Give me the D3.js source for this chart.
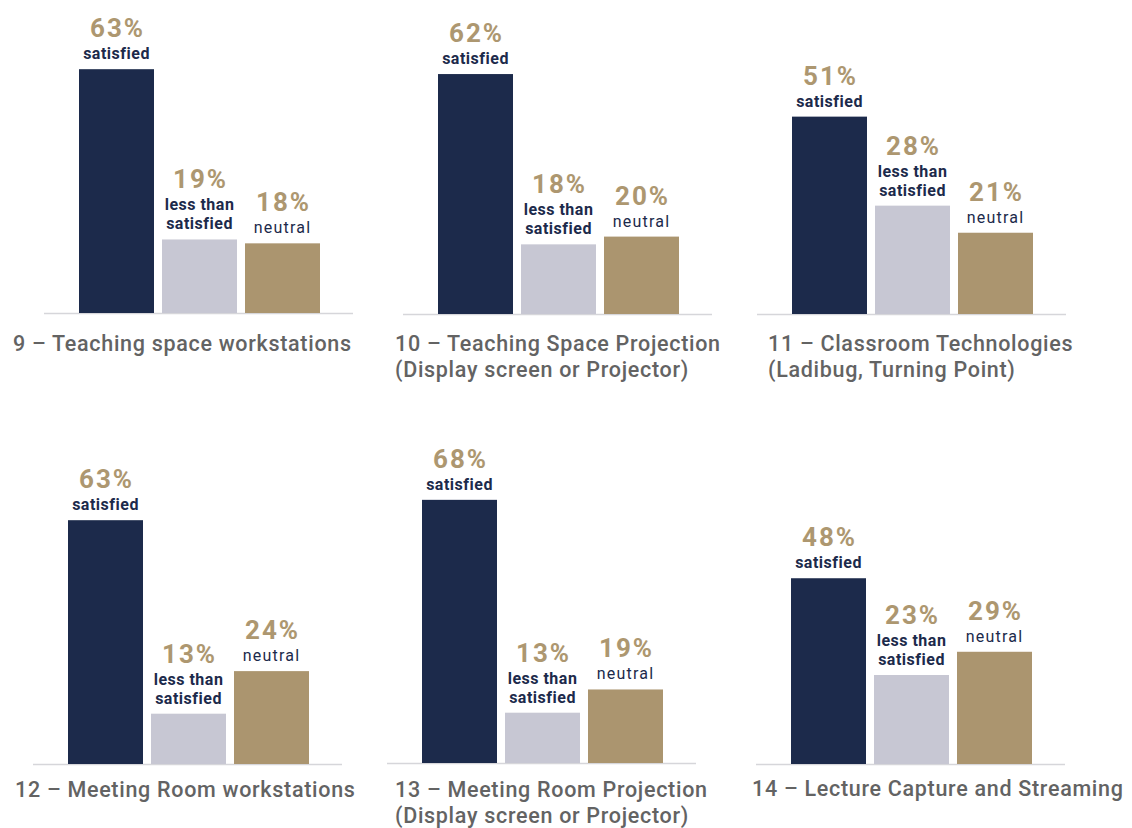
<!DOCTYPE html>
<html>
<head>
<meta charset="utf-8">
<script src="https://cdn.jsdelivr.net/npm/d3@7"></script>
<style>
  html, body { margin: 0; padding: 0; background: #ffffff; }
  svg { display: block; }
</style>
</head>
<body>
<svg id="chart" width="1132" height="828"></svg>
<script>
// Survey results: satisfaction with teaching and meeting room technology
const panelTitles = [
  ["9 – Teaching space workstations"],
  ["10 – Teaching Space Projection", "(Display screen or Projector)"],
  ["11 – Classroom Technologies", "(Ladibug, Turning Point)"],
  ["12 – Meeting Room workstations"],
  ["13 – Meeting Room Projection", "(Display screen or Projector)"],
  ["14 – Lecture Capture and Streaming"]
];
const categories = ["satisfied", "less than satisfied", "neutral"];
const categoryLines = [["satisfied"], ["less than", "satisfied"], ["neutral"]];
const satisfied = [63, 62, 51, 63, 68, 48];
const lessThanSatisfied = [19, 18, 28, 13, 13, 23];
const neutral = [18, 20, 21, 24, 19, 29];

// Panel placement on the page: baseline start x, baseline y, title x / y
const panelX = [44, 403, 757, 33, 387, 756];
const panelBase = [313, 314, 314, 764, 763, 764];
const titleX = [13, 395, 768, 15, 395, 752];
const titleY = [351, 351, 351, 797, 797, 796];

const colors = {
  "satisfied": "#1c2a4b",
  "less than satisfied": "#c7c7d3",
  "neutral": "#ab956f"
};
const pctColor = "#ad9770";
const labelColor = "#1c2a4b";
const titleColor = "#636363";
const font = "Roboto, 'Open Sans', sans-serif";

const svg = d3.select("#chart");

const x = d3.scaleBand()
  .domain(categories)
  .range([35, 276])
  .paddingInner(8 / 83);

// 100% maps to 387px of bar height
const y = d3.scaleLinear().domain([0, 100]).range([0, -387]);

panelTitles.forEach((title, i) => {
  const values = [satisfied[i], lessThanSatisfied[i], neutral[i]];
  const rows = categories.map((c, k) => ({ cat: c, value: values[k], lines: categoryLines[k] }));

  const g = svg.append("g")
    .attr("transform", `translate(${panelX[i]},${panelBase[i]})`);

  // baseline
  g.append("line")
    .attr("x1", 0).attr("x2", 309)
    .attr("y1", 0.5).attr("y2", 0.5)
    .attr("stroke", "#d6d6da")
    .attr("stroke-width", 1.5);

  // bars
  g.selectAll("rect.bar")
    .data(rows)
    .join("rect")
    .attr("class", "bar")
    .attr("x", d => x(d.cat))
    .attr("y", d => y(d.value))
    .attr("width", x.bandwidth())
    .attr("height", d => -y(d.value))
    .attr("fill", d => colors[d.cat]);

  // value + category label stacked above each bar
  const lab = g.selectAll("text.lab")
    .data(rows)
    .join("text")
    .attr("class", "lab")
    .attr("text-anchor", "middle")
    .attr("font-family", font)
    .attr("transform", d => `translate(${x(d.cat) + x.bandwidth() / 2},${y(d.value)})`);

  lab.each(function (d) {
    const el = d3.select(this);
    const n = d.lines.length;
    const isNeutral = d.cat === "neutral";
    el.append("tspan")
      .attr("x", 1)
      .attr("y", -10 - (n - 1) * 19 - 22)
      .attr("font-size", 26)
      .attr("font-weight", 700)
      .attr("letter-spacing", 2)
      .attr("fill", pctColor)
      .text(d3.format(".0%")(d.value / 100));
    d.lines.forEach((t, j) => {
      el.append("tspan")
        .attr("x", 0)
        .attr("y", -10 - (n - 1 - j) * 19)
        .attr("font-size", 16)
        .attr("font-weight", isNeutral ? 400 : 700)
        .attr("letter-spacing", isNeutral ? 1.2 : 0.5)
        .attr("fill", labelColor)
        .text(t);
    });
  });

  // panel title
  const tt = svg.append("text")
    .attr("x", titleX[i])
    .attr("y", titleY[i])
    .attr("font-family", font)
    .attr("font-size", 21.5)
    .attr("font-weight", 500)
    .attr("letter-spacing", 0.7)
    .attr("fill", titleColor);
  title.forEach((line, j) => {
    tt.append("tspan")
      .attr("x", titleX[i])
      .attr("dy", j === 0 ? 0 : 26)
      .text(line);
  });
});
</script>
</body>
</html>
